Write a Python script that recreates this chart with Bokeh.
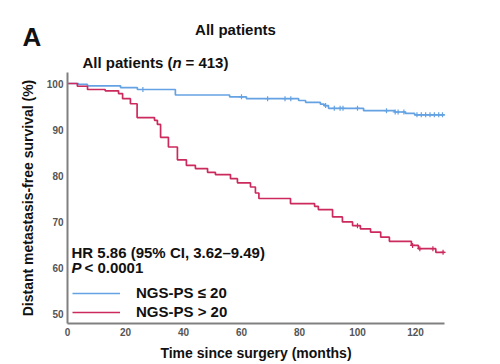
import numpy as np
from bokeh.plotting import figure
from bokeh.models import Range1d, Label, Legend, LegendItem, FixedTicker
from bokeh.embed import file_html
from bokeh.resources import INLINE

# ---- data ----
low_t = [0, 3.8, 6.9, 18.3, 24.1, 37.2, 55.9, 61.7, 79.7, 82.1, 87.2, 88.5, 90.0, 102.1, 112.8, 116.5, 119.7, 130]
low_v = [100, 99.8, 99.5, 99.1, 98.7, 97.5, 97.1, 96.7, 96.3, 95.9, 95.5, 95.2, 94.6, 94.1, 93.8, 93.5, 93.2, 93.2]
low_cens = [26, 60, 69, 75, 77, 89, 92, 94, 95, 100, 110, 113, 114, 116, 120.5, 122, 123.5, 125, 126.5, 128, 129.3]

high_t = [0, 3.4, 6.9, 13.0, 17.6, 19.0, 21.7, 24.0, 30.0, 31.0, 32.1, 34.8, 37.9, 41.0, 44.1, 48.3, 51.0,
          56.2, 58.6, 63.1, 64.8, 66.0, 76.9, 85.2, 86.5, 91.4, 94.8, 98.3, 101.0, 104.5, 108.0, 111.0,
          118.6, 121.0, 127.0, 130]
high_v = [100, 99.4, 98.7, 98.4, 97.8, 96.7, 95.6, 92.6, 92.0, 91.1, 88.3, 86.2, 83.4, 82.2, 81.5, 80.7, 80.2,
          79.3, 78.4, 77.5, 76.2, 75.0, 73.9, 73.3, 72.6, 71.0, 69.9, 69.1, 68.4, 67.7, 66.6, 65.7,
          64.8, 64.1, 63.3, 63.3]
high_cens = [100, 119, 121.5, 126, 129.5]

x_ticks = [0, 20, 40, 60, 80, 100, 120]
y_ticks = [50, 60, 70, 80, 90, 100]
x_span = (0, 130)
y_span = (47.8, 102.4)
legend_labels = ["NGS-PS \u2264 20", "NGS-PS > 20"]

BLUE = "#64a2e3"
RED = "#cc2a5d"
FONT = "Liberation Sans"
W, H = 500, 364
X0_PX, PX_PER_MONTH = 67, 2.9
Y100_PX, PX_PER_PCT = 83, 4.6


def dx(px):
    return (px - X0_PX) / PX_PER_MONTH


def dy(py):
    return 100 - (py - Y100_PX) / PX_PER_PCT


# the frame fills the whole canvas; axes are pinned inside it with fixed_location
p = figure(width=W, height=H, x_range=Range1d(dx(0), dx(W)), y_range=Range1d(dy(H), dy(0)),
           output_backend="svg", toolbar_location=None,
           min_border_left=0, min_border_right=0, min_border_top=0, min_border_bottom=0)
p.outline_line_color = None
p.xgrid.visible = False
p.ygrid.visible = False

for ax in (p.xaxis[0], p.yaxis[0]):
    ax.axis_line_color = "#808080"
    ax.axis_line_width = 2
    ax.major_tick_out = 0
    ax.major_tick_in = 0
    ax.minor_tick_out = 0
    ax.minor_tick_in = 0
    ax.major_label_text_font = FONT
    ax.major_label_text_font_style = "bold"
    ax.major_label_text_font_size = "10px"
    ax.major_label_text_color = "#555555"
    ax.major_label_standoff = 4
    ax.axis_label_text_font = FONT
    ax.axis_label_text_font_style = "bold"
    ax.axis_label_text_font_size = "14px"
    ax.axis_label_text_color = "#111111"
    ax.axis_label_standoff = 6
p.yaxis.axis_label_standoff = 8
p.xaxis.ticker = FixedTicker(ticks=x_ticks)
p.yaxis.ticker = FixedTicker(ticks=y_ticks)
p.xaxis.bounds = x_span
p.yaxis.bounds = y_span
p.xaxis.fixed_location = y_span[0]
p.yaxis.fixed_location = x_span[0]
p.xaxis.axis_label = "Time since surgery (months)"
p.yaxis.axis_label = "Distant metastasis-free survival (%)"


def surv_at(ts, vs, c):
    idx = np.searchsorted(np.array(ts), np.array(c), side="right") - 1
    return list(np.array(vs)[idx])


r_low = p.step(low_t, low_v, mode="after", line_color=BLUE, line_width=1.7)
r_high = p.step(high_t, high_v, mode="after", line_color=RED, line_width=1.7)
p.scatter(low_cens, surv_at(low_t, low_v, low_cens), marker="cross", size=5, line_color=BLUE, line_width=1.2)
p.scatter(high_cens, surv_at(high_t, high_v, high_cens), marker="cross", size=5, line_color=RED, line_width=1.2)

legend = Legend(items=[LegendItem(label=legend_labels[0], renderers=[r_low]),
                       LegendItem(label=legend_labels[1], renderers=[r_high])],
                location=(72, 44), border_line_color=None, background_fill_alpha=0,
                glyph_width=48, glyph_height=16, label_standoff=16, padding=0, margin=0, spacing=2,
                label_text_font=FONT, label_text_font_style="bold", label_text_font_size="15px",
                label_text_color="#111111")
p.add_layout(legend)


def lab(px, py, text, size="15px", style="bold", align="left"):
    p.add_layout(Label(x=dx(px), y=dy(py), text=text, text_font=FONT, text_font_style=style,
                       text_font_size=size, text_align=align, text_baseline="middle",
                       text_color="#111111"))


lab(22, 36, "A", size="26px")
lab(235, 29, "All patients", size="15px", align="center")
lab(82, 61.5, "All patients (")
lab(172, 61.5, "n", style="bold italic")
lab(185, 61.5, "= 413)")
lab(71, 252, "HR 5.86 (95% CI, 3.62\u20139.49)")
lab(71, 267, "P", style="bold italic")
lab(84, 267, "< 0.0001")

open("out.html", "w").write(file_html(p, INLINE))
